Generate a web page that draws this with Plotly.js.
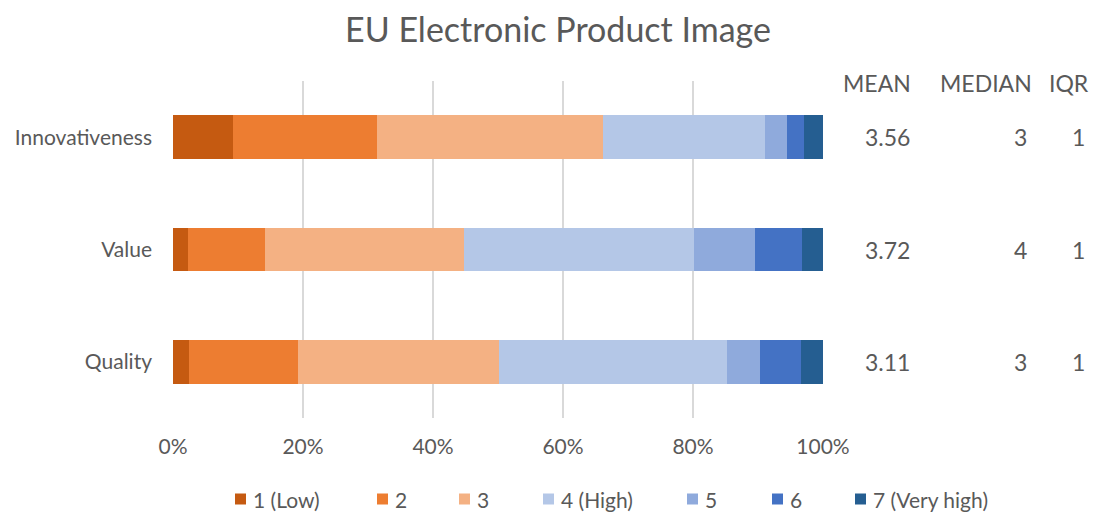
<!DOCTYPE html>
<html>
<head>
<meta charset="utf-8">
<script src="https://cdn.plot.ly/plotly-3.0.1.min.js"></script>
<style>
  html, body { margin: 0; padding: 0; background: #fff; }
  #chart { width: 1099px; height: 512px; }
</style>
</head>
<body>
<div id="chart"></div>
<script>
// Survey categories, top to bottom
const categories = ['Innovativeness', 'Value', 'Quality'];

// Share of answers (%) per rating level
const low1     = [9.3, 2.3, 2.5];
const level2   = [22.1, 11.9, 16.7];
const level3   = [34.7, 30.5, 31.0];
const high4    = [24.9, 35.5, 35.1];
const level5   = [3.4, 9.3, 5.0];
const level6   = [2.7, 7.3, 6.3];
const veryHigh7 = [2.9, 3.2, 3.4];

const seriesNames = ['1 (Low)', '2', '3', '4 (High)', '5', '6', '7 (Very high)'];
const seriesValues = [low1, level2, level3, high4, level5, level6, veryHigh7];
const seriesColors = ['#C55A11', '#ED7D31', '#F4B183', '#B4C7E7', '#8FAADC', '#4472C4', '#255E91'];

// Percentage axis ticks
const tickValues = [0, 20, 40, 60, 80, 100];
const tickLabels = ['0%', '20%', '40%', '60%', '80%', '100%'];

// Summary statistics shown to the right of each bar
const meanValues = ['3.56', '3.72', '3.11'];
const medianValues = ['3', '4', '3'];
const iqrValues = ['1', '1', '1'];
const statHeaders = ['MEAN', 'MEDIAN', 'IQR'];

const FONT = 'Lato, "Open Sans", sans-serif';
const GREY = '#595959';

const W = 1099, H = 512;
const M = { l: 173, r: 276, t: 81, b: 94 };
const PW = W - M.l - M.r, PH = H - M.t - M.b;
const px = x => (x - M.l) / PW;           // pixel x -> paper x
const py = y => (H - M.b - y) / PH;       // pixel y -> paper y

const traces = seriesNames.map((name, i) => ({
  type: 'bar',
  orientation: 'h',
  name: name,
  y: categories,
  x: seriesValues[i],
  marker: { color: seriesColors[i], line: { width: 0 } },
  hoverinfo: 'skip'
}));

const annotations = [];
const shapes = [];

// Column headers
const headerX = [877, 986, 1069];
statHeaders.forEach((h, i) => annotations.push({
  xref: 'paper', yref: 'paper', x: px(headerX[i]), y: py(83),
  text: h, showarrow: false, xanchor: 'center', yanchor: 'middle',
  font: { family: FONT, size: 23, color: GREY }
}));

// Statistic values, right-aligned in each column
const colRight = [912, 1029, 1087];
[meanValues, medianValues, iqrValues].forEach((col, c) => {
  col.forEach((v, r) => annotations.push({
    xref: 'paper', yref: 'y', x: px(colRight[c]), y: categories[r],
    text: v, showarrow: false, xanchor: 'right', yanchor: 'middle',
    font: { family: FONT, size: 23, color: GREY }
  }));
});

// Legend row along the bottom
const legendLeft = [235, 377, 459, 543, 687, 772, 855];
const legendY = 499, sq = 11;
seriesNames.forEach((name, i) => {
  shapes.push({
    type: 'rect', xref: 'paper', yref: 'paper',
    x0: px(legendLeft[i]), x1: px(legendLeft[i] + sq),
    y0: py(legendY + sq / 2), y1: py(legendY - sq / 2),
    fillcolor: seriesColors[i], line: { width: 0 }
  });
  annotations.push({
    xref: 'paper', yref: 'paper', x: px(legendLeft[i] + sq + 5), y: py(legendY),
    text: name, showarrow: false, xanchor: 'left', yanchor: 'middle',
    font: { family: FONT, size: 21, color: GREY }
  });
});

const layout = {
  width: W, height: H,
  margin: M,
  paper_bgcolor: '#fff', plot_bgcolor: '#fff',
  barmode: 'stack',
  bargap: 0.61,
  showlegend: false,
  title: {
    text: 'EU Electronic Product Image',
    x: 558 / W, xref: 'container', xanchor: 'center',
    y: 1 - 30 / H, yref: 'container', yanchor: 'middle',
    font: { family: FONT, size: 34, color: GREY }
  },
  xaxis: {
    range: [0, 100],
    tickmode: 'array',
    tickvals: tickValues,
    ticktext: tickLabels,
    showgrid: true, gridcolor: '#D9D9D9', gridwidth: 2,
    zeroline: false, showline: false,
    ticks: '', ticklabelstandoff: 14,
    tickfont: { family: FONT, size: 21, color: GREY },
    fixedrange: true
  },
  yaxis: {
    autorange: 'reversed',
    showgrid: false, zeroline: false, showline: false,
    ticks: '', ticklabelstandoff: 20,
    tickfont: { family: FONT, size: 21, color: GREY },
    fixedrange: true
  },
  annotations: annotations,
  shapes: shapes
};

Plotly.newPlot('chart', traces, layout, { displayModeBar: false, staticPlot: true });
</script>
</body>
</html>
